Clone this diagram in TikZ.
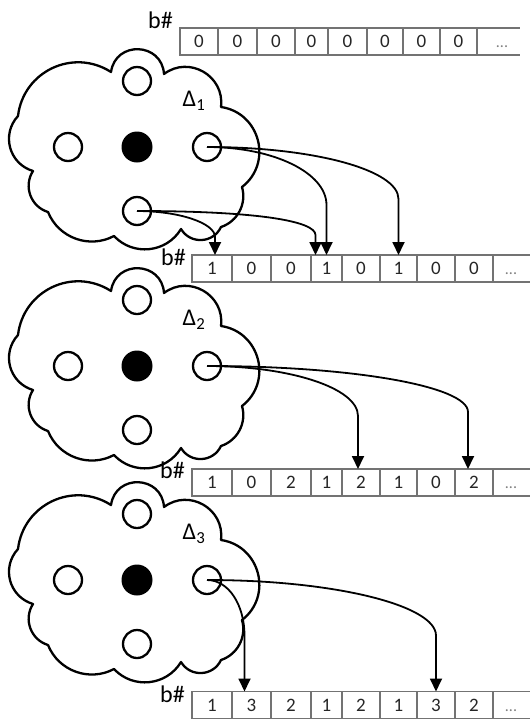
\documentclass[tikz,border=0pt]{standalone}
\usepackage{fontspec}
\setmainfont{Carlito}
\usetikzlibrary{arrows.meta,calc}
\begin{document}
\begin{tikzpicture}[x=1pt,y=1pt,
  cloudline/.style={line width=2.3pt, line join=round},
  dot/.style={circle, draw, line width=2.3pt, minimum size=28pt, inner sep=0pt},
  hub/.style={circle, fill=black, minimum size=31pt, inner sep=0pt},
  cellbox/.style={draw=black!55, line width=1.3pt, minimum height=27pt, inner sep=0pt, outer sep=0pt,
    font=\fontsize{19}{19}\selectfont, text=black!85, text height=12.5pt, text depth=0pt},
  celldots/.style={inner sep=0pt, outer sep=0pt, minimum height=27pt,
    font=\fontsize{16}{16}\selectfont, text=black!50, text height=12.5pt, text depth=0pt},
  cellline/.style={draw=black!55, line width=1.3pt},
  blabel/.style={font=\fontsize{24}{24}\selectfont, anchor=base east, inner sep=0pt},
  dlabel/.style={font=\fontsize{24}{24}\selectfont, inner sep=0pt},
  arr/.style={line width=1.8pt, -{Triangle[length=13pt,width=12pt]}},
  pics/cloudpic/.style={code={
    \draw[cloudline] (-26,75) to[bend left=84, looseness=1.54] (27,73)
      to[bend left=67, looseness=1.22] (84,40)
      to[bend left=67, looseness=1.22] (105,-40)
      to[bend left=44, looseness=0.99] (84,-80)
      to[bend left=62, looseness=1.16] (44,-82)
      to[bend left=53, looseness=1.06] (-23,-89)
      to[bend left=48, looseness=1.02] (-89,-65)
      to[bend left=53, looseness=1.06] (-104,-24)
      to[bend left=58, looseness=1.12] (-119,31)
      to[bend left=58, looseness=1.12] (-26,75) -- cycle;
    \node[dot] (-t) at (0,66) {};
    \node[hub] (-c) at (0,0) {};
    \node[dot] (-l) at (-69,0) {};
    \node[dot] (-r) at (70,0) {};
    \node[dot] (-b) at (0,-64) {};
    \node[dlabel] (-lab) at (57,46) {Δ\textsubscript{#1}};
  }}
]
\useasboundingbox (0,0) rectangle (530,-724);

% clouds
\pic (c1) at (137,-147) {cloudpic=1};
\pic (c2) at (137,-366) {cloudpic=2};
\pic (c3) at (137,-580) {cloudpic=3};

% row 0
\node[blabel] (b0) at (173,-28) {b\#};
\foreach \a/\b/\t [count=\i] in {180/218/0,218/257/0,257/295/0,295/328/0,328/367/0,367/403/0,403/440/0,440/477/0}
  \node[cellbox, minimum width={\b-\a}] (r0-\i) at ({(\a+\b)/2},-41.5) {\t};
\node[celldots] (r0-9) at (502,-41.5) {...};
\draw[cellline] (477,-28) -- (520,-28) (477,-55) -- (520,-55);

% row 1
\node[blabel] (b1) at (186,-265) {b\#};
\foreach \a/\b/\t [count=\i] in {192/232/1,232/271/0,271/311/0,311/342/1,342/380/0,380/417/1,417/455/0,455/493/0}
  \node[cellbox, minimum width={\b-\a}] (r1-\i) at ({(\a+\b)/2},-268.5) {\t};
\node[celldots] (r1-9) at (511,-268.5) {...};
\draw[cellline] (493,-255) -- (530,-255) (493,-282) -- (530,-282);

% row 2
\node[blabel] (b2) at (185,-478) {b\#};
\foreach \a/\b/\t [count=\i] in {192/232/1,232/271/0,271/311/2,311/342/1,342/380/2,380/417/1,417/455/0,455/493/2}
  \node[cellbox, minimum width={\b-\a}] (r2-\i) at ({(\a+\b)/2},-482.5) {\t};
\node[celldots] (r2-9) at (511,-482.5) {...};
\draw[cellline] (493,-469) -- (530,-469) (493,-496) -- (530,-496);

% row 3
\node[blabel] (b3) at (185,-702) {b\#};
\foreach \a/\b/\t [count=\i] in {192/232/1,232/271/3,271/311/2,311/342/1,342/380/2,380/417/1,417/455/3,455/493/2}
  \node[cellbox, minimum width={\b-\a}] (r3-\i) at ({(\a+\b)/2},-705) {\t};
\node[celldots] (r3-9) at (511,-705) {...};
\draw[cellline] (493,-691.5) -- (530,-691.5) (493,-718.5) -- (530,-718.5);

% arrows cloud 1
\draw[arr] (c1-r.center) to[out=0,in=90,out distance=67pt,in distance=32pt] ([yshift=50pt]r1-4.north) -- (r1-4.north);
\draw[arr] (c1-r.center) to[out=0,in=90,out distance=107pt,in distance=29pt] ([yshift=56pt]r1-6.north) -- (r1-6.north);
\draw[arr] (c1-b.center) to[out=0,in=90,out distance=120pt,in distance=14pt] ([xshift=-11pt,yshift=20pt]r1-4.north) -- ([xshift=-11pt]r1-4.north);
\draw[arr] (c1-b.center) to[out=0,in=90,out distance=42pt,in distance=14pt] ([xshift=3pt,yshift=18pt]r1-1.north) -- ([xshift=3pt]r1-1.north);

% arrows cloud 2
\draw[arr] (c2-r.center) to[out=0,in=90,out distance=83pt,in distance=28pt] ([xshift=-3pt,yshift=53pt]r2-5.north) -- ([xshift=-3pt]r2-5.north);
\draw[arr] (c2-r.center) to[out=0,in=90,out distance=144pt,in distance=26pt] ([xshift=-6pt,yshift=57pt]r2-8.north) -- ([xshift=-6pt]r2-8.north);

% arrows cloud 3
\draw[arr] (c3-r.center) to[out=0,in=90,out distance=22pt,in distance=30pt] ([xshift=-7pt,yshift=56pt]r3-2.north) -- ([xshift=-7pt]r3-2.north);
\draw[arr] (c3-r.center) to[out=0,in=90,out distance=128pt,in distance=30pt] ([yshift=56pt]r3-7.north) -- (r3-7.north);
\end{tikzpicture}
\end{document}
